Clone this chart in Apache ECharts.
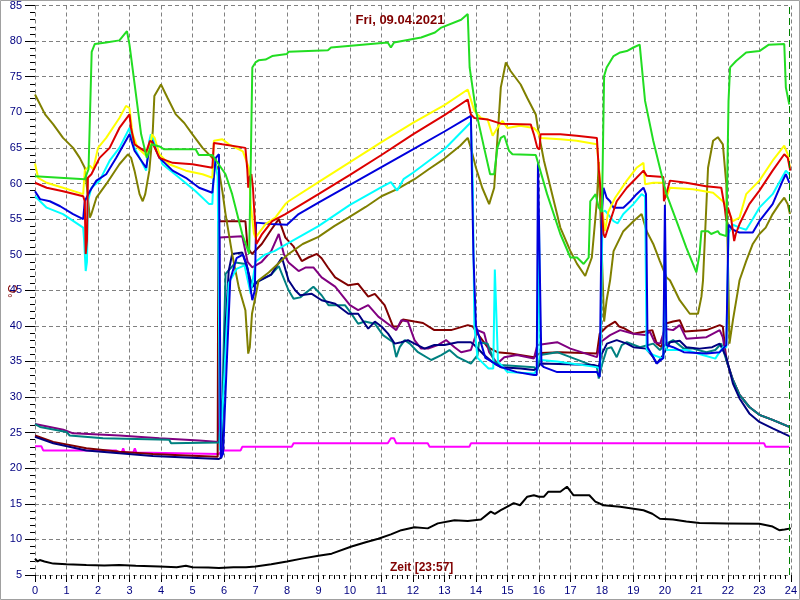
<!DOCTYPE html>
<html>
<head>
<meta charset="utf-8">
<script src="https://cdn.jsdelivr.net/npm/echarts@6/dist/echarts.min.js"></script>
<style>html,body{margin:0;padding:0;background:#fff}#c{width:800px;height:600px}</style>
</head>
<body>
<div id="c"></div>
<script>
const titleText = 'Fri, 09.04.2021';
const xLabel = 'Zeit [23:57]';
const yLabel = '°C';
const nowHour = 23.95;

const green = [[0,61.0],[1.58,60.6],[1.7,62],[1.8,78.5],[1.9,79.6],[2.26,79.8],[2.68,80.1],[2.92,81.4],[3.0,79.5],[3.37,66.9],[3.55,63.6],[3.7,65.5],[3.95,65.2],[4.1,64.8],[5.1,64.8],[5.2,64.0],[5.63,64.0],[6.05,61.3],[6.26,58.5],[6.58,52.9],[6.8,50.1],[6.84,60],[6.9,76.3],[7.0,77.0],[7.1,77.3],[7.32,77.4],[7.53,77.9],[8.0,78.2],[8.05,78.5],[9.3,78.7],[9.4,79.1],[11.2,79.8],[11.3,79.1],[11.4,79.8],[12.26,80.5],[12.7,81.2],[12.9,81.9],[13.53,83.0],[13.74,83.8],[13.8,76.3],[14.0,70.2],[14.26,65.0],[14.45,61.3],[14.58,61.3],[14.68,65.0],[14.79,66.4],[14.9,66.7],[15.05,64.6],[15.16,64.1],[15.9,64.0],[16.26,58.5],[16.68,52.9],[17.0,49.6],[17.21,49.6],[17.42,48.7],[17.58,49.6],[17.63,57.5],[17.8,58.5],[17.9,56.6],[18.0,56],[18.07,75.1],[18.15,76.3],[18.37,77.9],[18.58,78.4],[18.79,78.6],[19.0,79.1],[19.2,79.5],[19.37,71.6],[19.63,66.0],[19.84,62.2],[20.05,58.5],[20.37,54.7],[20.68,51.0],[21.0,47.5],[21.1,50.1],[21.16,53.3],[21.37,53.3],[21.47,52.9],[21.68,53.3],[21.74,52.9],[21.95,52.6],[22.02,71.6],[22.07,76.3],[22.26,77.2],[22.58,78.4],[23.0,78.6],[23.3,79.5],[23.79,79.6],[23.84,73.5],[23.95,71.1]];

const olive = [[0,72.5],[0.32,69.7],[0.58,68.3],[0.89,66.4],[1.21,65.0],[1.42,63.6],[1.58,62.2],[1.65,59.4],[1.74,55.2],[1.79,55.7],[1.95,58.0],[2.26,59.9],[2.47,61.3],[2.68,62.7],[2.95,64.1],[3.05,63.6],[3.16,61.8],[3.32,58.5],[3.42,57.5],[3.5,58.5],[3.63,61.8],[3.74,67.4],[3.79,72.3],[4.0,73.9],[4.21,72.0],[4.47,69.7],[4.74,68.5],[5.0,66.9],[5.32,65.0],[5.63,63.6],[5.84,61.8],[5.95,58.9],[6.05,55.7],[6.26,50.1],[6.47,45.4],[6.68,42.2],[6.77,36.1],[6.82,37],[6.89,41.7],[7.0,44.1],[7.1,46.4],[7.42,47.5],[8.05,50.1],[8.5,51.5],[9.0,52.5],[9.5,54],[9.95,55.2],[10.5,56.7],[11.0,58.2],[11.5,59.2],[12.05,60.6],[12.5,62],[13.0,63.5],[13.5,65.3],[13.74,66.4],[13.84,65],[14.0,62.2],[14.2,59.4],[14.42,57.1],[14.58,59.4],[14.79,73.5],[14.95,77.0],[15.1,75.8],[15.42,73.9],[15.63,72.0],[15.9,69.7],[16.0,66.9],[16.16,63.2],[16.42,58.5],[16.68,53.8],[17.0,50.5],[17.21,48.7],[17.47,47.0],[17.68,49.6],[17.84,57.5],[17.9,63],[17.96,55],[18.07,40.6],[18.15,43.6],[18.26,46.4],[18.37,50.5],[18.68,53.3],[19.0,54.7],[19.26,55.7],[19.42,53.3],[19.63,51.5],[19.84,49.1],[20.05,46.8],[20.16,46.4],[20.47,43.6],[20.79,41.7],[21.05,41.7],[21.16,44.1],[21.21,46.4],[21.37,62.2],[21.53,66.0],[21.68,66.5],[21.84,65.5],[21.95,59.9],[22.02,45],[22.05,37.5],[22.16,40.8],[22.3,44.5],[22.37,46.4],[22.58,49.1],[22.79,51.5],[23.0,52.9],[23.2,53.8],[23.42,55.7],[23.63,57.1],[23.79,58.0],[23.9,57.1],[23.97,55.7]];

const yellow = [[0,62.8],[0.1,60.8],[0.37,60.1],[0.89,59.4],[1.53,58.5],[1.58,61.8],[1.74,62.5],[1.85,62],[2.0,65.0],[2.26,66.4],[2.68,69.2],[2.89,70.9],[3.0,70.6],[3.1,66.9],[3.26,65.0],[3.53,63.9],[3.65,65],[3.71,66.9],[3.8,66.4],[3.95,64.1],[4.26,62.7],[4.79,61.8],[5.32,61.3],[5.63,60.8],[5.68,66.0],[5.95,66.2],[6.16,65.5],[6.6,64.5],[6.79,62.2],[6.85,57],[6.95,53],[7.0,52.4],[7.32,54.3],[7.63,55.2],[7.95,57.1],[8.05,57.5],[9.0,60.2],[10.0,63.0],[11.0,65.8],[12.0,68.5],[13.0,71.0],[13.74,73.2],[13.95,70.2],[14.16,69.2],[14.37,69.0],[14.53,66.7],[14.68,67.8],[14.84,68.8],[15.0,67.8],[15.4,68.1],[15.84,67.8],[15.95,67.3],[16.05,66.4],[16.68,66.2],[17.2,66.0],[17.84,65.5],[17.93,61],[18.0,56.6],[18.1,53.3],[18.2,56],[18.42,58.0],[18.79,60.4],[19.1,62.2],[19.32,62.9],[19.37,59.9],[19.63,60.1],[19.95,60.1],[20.0,58.5],[20.05,58.0],[20.16,59.4],[20.89,59.2],[21.53,58.7],[21.84,57.5],[21.95,57.0],[22.05,55.7],[22.16,54.7],[22.37,55.2],[22.58,58.5],[23.0,60.4],[23.42,63.2],[23.79,65.3],[23.9,64.1],[23.97,62.2]];

const red = [[0,60.1],[0.37,59.4],[0.89,58.9],[1.53,58.2],[1.58,57.5],[1.61,50.1],[1.65,52],[1.68,60.8],[1.79,61.3],[2.05,63.6],[2.37,65.0],[2.68,67.8],[3.0,69.7],[3.05,67.8],[3.16,65.5],[3.53,64.4],[3.65,66.0],[3.72,65.8],[3.95,63.6],[4.37,62.9],[5.0,62.7],[5.63,62.2],[5.68,65.7],[5.95,65.5],[6.68,65.0],[6.74,62],[6.77,59.4],[6.8,60.8],[6.87,61.3],[6.92,59.4],[6.98,54.7],[7.03,51.5],[7.21,52.9],[7.53,54.7],[7.95,55.7],[8.0,55.7],[9.0,58.5],[10.0,61.2],[11.0,64.0],[12.0,66.9],[13.0,69.6],[13.74,71.8],[13.84,69.7],[13.95,69.2],[14.37,69.0],[14.79,68.4],[15.74,68.3],[15.84,66.9],[15.95,65.0],[16.02,64.8],[16.05,66.9],[16.68,66.9],[17.2,66.7],[17.84,66.4],[17.9,62],[17.97,58.5],[18.05,52.9],[18.1,52.4],[18.26,54.7],[18.47,57.5],[18.79,59.4],[19.1,60.8],[19.32,61.8],[19.42,61.1],[19.95,60.9],[19.97,57.5],[20.05,58.6],[20.16,60.4],[20.68,60.1],[21.3,59.6],[21.79,59.4],[21.9,56.6],[21.95,54.7],[22.0,56.6],[22.1,55.2],[22.2,51.9],[22.25,52.9],[22.37,54.3],[22.68,57.1],[23.0,59.0],[23.42,61.8],[23.79,64.1],[23.9,63.6],[23.98,61.8]];

const cyan = [[0,58.2],[0.37,56.6],[0.89,55.7],[1.53,53.8],[1.56,52],[1.61,47.7],[1.65,49],[1.68,57.5],[1.79,59.4],[2.05,60.4],[2.37,63.2],[2.68,65.0],[3.0,67.8],[3.16,65.0],[3.53,61.8],[3.63,66.0],[3.68,66.9],[3.78,66.0],[4.05,62.7],[4.58,60.8],[5.1,58.9],[5.53,57.1],[5.63,57.1],[5.7,63.5],[5.8,61],[5.88,22.5],[6.0,32],[6.15,46],[6.4,48],[6.65,48.5],[6.85,44.5],[7.0,49],[7.3,50],[7.6,50.5],[8.0,51.5],[9.0,54.0],[10.0,57.0],[11.0,59.5],[11.3,60.2],[11.5,59.0],[11.7,60.6],[12.0,61.5],[13.0,64.8],[13.84,68.6],[13.9,60],[13.95,40],[14.05,35.5],[14.4,34],[14.55,34],[14.6,47.9],[14.65,47.9],[14.7,35],[15.0,33.5],[15.84,33.3],[15.95,33.8],[16.0,55],[16.05,35.2],[16.58,35.0],[17.84,34.2],[17.95,34],[18.02,56],[18.1,56.2],[18.37,54.7],[18.5,54.4],[18.68,55.7],[19.0,57.1],[19.26,58.5],[19.37,58.2],[19.42,36.6],[19.63,35.9],[19.95,35.4],[20.0,52],[20.05,36.6],[20.68,36.6],[21.2,35.9],[21.6,35.4],[21.84,37.0],[21.95,37],[22.02,53],[22.16,54.2],[22.37,53.8],[22.58,53.5],[22.79,55.0],[23.0,56.6],[23.42,58.5],[23.84,61.8],[23.95,61.3]];

const blue = [[0,58.9],[0.16,57.8],[0.47,57.5],[0.8,56.8],[1.21,55.7],[1.53,55.0],[1.58,57.5],[1.74,58.9],[1.95,60.4],[2.26,61.3],[2.58,63.6],[3.0,66.9],[3.16,64.6],[3.53,62.2],[3.65,65.5],[3.72,66.0],[3.95,63.6],[4.37,61.8],[4.79,60.8],[5.21,59.4],[5.63,58.7],[5.74,63.6],[5.84,64.1],[5.9,21.5],[5.97,22],[6.1,36],[6.2,46.5],[6.4,49.5],[6.6,50],[6.75,48],[6.9,43.6],[6.98,45],[7.02,54.5],[7.5,54.3],[8.0,54.2],[8.37,55.7],[9.0,57.3],[10.0,59.8],[11.0,62.3],[12.0,64.8],[13.0,67.3],[13.84,69.5],[13.92,50],[14.0,40],[14.3,35.5],[14.8,34.2],[15.3,33.5],[15.84,33.1],[15.93,33.1],[15.97,63],[16.03,63],[16.08,34.5],[16.16,34.2],[16.58,33.5],[17.84,33.5],[17.93,32.8],[17.99,55],[18.05,59.4],[18.15,58],[18.26,57.5],[18.37,56.6],[18.68,56.6],[18.9,57.5],[19.1,58.5],[19.32,59.4],[19.4,58.5],[19.45,37],[19.63,35.6],[19.74,34.7],[19.95,35.5],[20.0,57],[20.05,37.3],[20.26,37.0],[20.6,36.3],[21.32,36.1],[21.74,36.3],[21.95,37.3],[22.02,54.2],[22.16,53.5],[22.37,53.1],[22.79,53.1],[23.0,54.7],[23.42,57.1],[23.74,60.4],[23.84,61.3],[23.95,60.1]];

const navy = [[0,24.4],[0.58,23.5],[1.63,22.5],[2.68,22.1],[3.74,21.7],[4.79,21.5],[5.84,21.3],[5.92,21.5],[6.05,40],[6.15,47.7],[6.26,50.1],[6.58,50.3],[6.72,48.6],[6.89,45.4],[7.1,46.3],[7.5,47.2],[7.84,49.6],[8.05,46.4],[8.26,45.0],[8.42,44.3],[8.79,44.5],[9.1,43.6],[9.53,43.1],[9.95,41.7],[10.26,41.7],[10.58,39.6],[10.79,40.6],[11.0,39.9],[11.21,38.9],[11.42,37.5],[11.63,37.7],[11.84,38.0],[12.05,37.5],[12.37,36.8],[12.68,37.3],[13.0,37.3],[13.42,37.7],[13.84,37.7],[13.95,37.3],[14.26,35.9],[14.58,34.7],[14.79,34.2],[15.42,34.0],[15.84,33.8],[15.95,34],[16.05,34.7],[17.74,34.5],[17.9,34.3],[18.0,36.1],[18.16,37.5],[18.47,38.0],[18.79,37.5],[19.0,37.0],[19.4,36.8],[19.63,35.6],[19.74,34.7],[19.9,35.6],[20.16,37.7],[20.47,37.9],[20.68,37.0],[21.1,36.8],[21.5,37.0],[21.74,37.5],[21.95,35.6],[22.16,31.9],[22.37,29.8],[22.68,27.7],[23.0,26.5],[23.42,25.6],[23.95,24.5]];

const teal = [[0,26.2],[0.16,25.8],[1.0,25.1],[1.1,24.6],[2.16,24.2],[4.26,24.0],[4.32,23.5],[5.84,23.6],[5.95,30],[6.05,47.3],[6.37,48.9],[6.68,48.7],[6.89,45.8],[7.1,46.3],[7.5,47.2],[7.74,48.4],[8.05,45.0],[8.21,43.8],[8.42,44.0],[8.84,45.5],[9.1,44.3],[9.32,42.9],[9.84,42.9],[10.0,42.0],[10.26,40.3],[10.47,40.6],[10.79,40.3],[11.05,38.7],[11.37,37.7],[11.47,35.6],[11.58,37.0],[11.74,38.0],[11.9,37.5],[12.16,36.3],[12.58,35.2],[12.9,35.9],[13.16,36.6],[13.42,35.6],[13.84,34.7],[14.05,35.9],[14.1,37.7],[14.37,37.5],[14.58,35],[14.79,34.5],[15.84,34.2],[15.95,33.8],[16.05,35.9],[16.58,36.3],[17.0,35.6],[17.84,34.2],[17.9,32.6],[18.0,34.5],[18.16,36.8],[18.3,37],[18.47,35.6],[18.63,37.3],[18.79,37.7],[19.21,37.0],[19.63,37.5],[19.84,36.6],[20.05,37.5],[20.26,38.0],[20.6,36.8],[20.89,36.8],[21.32,36.3],[21.6,36.6],[21.79,37.5],[21.95,35.2],[22.16,32.4],[22.37,30.3],[22.68,28.6],[23.0,27.5],[23.42,26.8],[23.95,25.8]];

const purple = [[0,26.2],[0.9,25.4],[1.21,24.9],[2.68,24.6],[3.95,24.2],[5.21,23.9],[5.84,23.7],[5.86,52.4],[6.58,52.6],[6.75,49],[6.9,48.2],[7.2,49],[7.5,50.5],[7.74,52.9],[7.9,50.1],[8.05,48.9],[8.37,47.7],[8.6,48.2],[8.84,48.2],[9.1,46.8],[9.53,45.5],[10.0,42.9],[10.26,42.2],[10.58,42.9],[10.9,41.3],[11.32,39.9],[11.47,39.4],[11.63,40.8],[11.84,40.6],[12.05,38.0],[12.26,36.8],[12.48,36.8],[12.79,37.3],[13.05,38.0],[13.32,37.0],[13.53,36.3],[13.84,36.6],[14.05,39.4],[14.26,39.0],[14.42,36.3],[14.68,34.7],[14.9,35.6],[15.3,35.9],[15.84,35.4],[15.95,37.3],[16.58,37.7],[17.0,36.8],[17.84,35.6],[17.95,37.7],[18.26,38.7],[18.58,39.4],[19.0,38.9],[19.37,38.7],[19.52,39.2],[19.68,37.7],[19.85,37.5],[20.0,39.6],[20.26,39.4],[20.47,40.1],[20.68,38.2],[21.32,38.4],[21.74,39.4],[21.84,38.4],[21.95,35.2],[22.16,32.4],[22.37,30.3],[22.68,28.6],[23.0,27.5],[23.42,26.8],[23.95,25.8]];

const maroon = [[0,24.6],[0.58,23.7],[1.63,22.8],[2.68,22.3],[3.74,22.0],[4.79,21.8],[5.8,21.6],[5.82,54.7],[6.68,54.7],[6.75,51],[6.89,50.1],[7.2,51.5],[7.5,53.5],[7.74,55.0],[7.95,52.4],[8.2,51.2],[8.47,49.1],[8.68,49.6],[8.95,50.1],[9.1,49.5],[9.3,48.2],[9.53,46.8],[9.95,45.7],[10.26,45.9],[10.58,44.1],[10.79,44.5],[11.1,42.9],[11.37,39.9],[11.53,39.9],[11.68,40.9],[12.05,40.6],[12.32,40.4],[12.68,39.4],[13.21,39.4],[13.74,40.1],[13.9,39.9],[14.05,38.9],[14.37,37.0],[14.68,36.3],[15.1,36.1],[15.84,35.6],[16.05,36.2],[16.68,36.3],[17.84,36.1],[17.93,38.9],[18.16,39.9],[18.42,40.6],[18.55,39.9],[18.68,39.7],[19.0,38.9],[19.37,39.2],[19.6,39.4],[19.74,37.5],[19.9,37.0],[20.0,40.3],[20.26,40.6],[20.47,40.8],[20.63,39.2],[21.32,39.4],[21.74,40.1],[21.84,39.9],[21.95,35.2],[22.16,32.4],[22.37,30.3],[22.68,28.6],[23.0,27.5],[23.42,26.8],[23.95,25.8]];

const magenta = [[0,23.1],[0.2,23.1],[0.26,22.5],[2.58,22.5],[2.65,22.2],[2.75,22.2],[2.8,22.8],[2.85,22.2],[3.12,22.2],[3.17,22.8],[3.22,22.2],[5.84,22.0],[5.95,22.5],[6.53,22.5],[6.58,23.0],[8.15,23.0],[8.21,23.5],[11.2,23.5],[11.3,24.2],[11.4,24.2],[11.47,23.5],[12.47,23.5],[12.53,23.0],[13.79,23.0],[13.84,23.5],[23.15,23.5],[23.2,23.0],[23.95,23.0]];

const black = [[0,7.3],[0.08,6.9],[0.15,7.1],[0.3,6.9],[0.58,6.6],[1.0,6.5],[1.63,6.4],[2.2,6.35],[2.68,6.4],[3.2,6.3],[3.95,6.2],[4.5,6.1],[4.79,6.3],[5.0,6.1],[5.5,6.05],[5.84,6.0],[6.3,6.1],[6.7,6.1],[7.0,6.2],[7.5,6.5],[8.0,6.9],[8.47,7.3],[9.0,7.7],[9.42,8.0],[10.05,9.0],[10.5,9.6],[10.9,10.1],[11.3,10.7],[11.63,11.3],[12.05,11.7],[12.47,11.55],[12.79,12.25],[13.32,12.7],[13.74,12.6],[14.16,12.8],[14.47,13.9],[14.6,13.6],[14.79,14.1],[15.0,14.6],[15.2,15.1],[15.4,14.8],[15.63,16.0],[15.84,16.2],[16.0,16.0],[16.16,16.0],[16.3,16.7],[16.68,16.7],[16.89,17.4],[17.1,16.2],[17.6,16.2],[17.79,15.3],[18.05,14.8],[18.58,14.6],[19.32,14.1],[19.6,13.6],[19.84,12.9],[20.26,12.8],[20.68,12.5],[21.1,12.3],[21.95,12.25],[23.0,12.2],[23.42,11.8],[23.63,11.3],[23.8,11.4],[24,11.55]];

const seriesList = [
  ['black', black, '#000000'],
  ['magenta', magenta, '#ff00ff'],
  ['maroon', maroon, '#800000'],
  ['purple', purple, '#800080'],
  ['teal', teal, '#008080'],
  ['navy', navy, '#000080'],
  ['olive', olive, '#808000'],
  ['cyan', cyan, '#00ffff'],
  ['blue', blue, '#0000dd'],
  ['yellow', yellow, '#ffff00'],
  ['red', red, '#dd0000'],
  ['green', green, '#22dd22']
];

const chart = echarts.init(document.getElementById('c'), null, {renderer: 'canvas'});
const font = 'Liberation Sans, Arial, sans-serif';
const series = seriesList.map(([name, data, color]) => ({
  name, type: 'line', data, showSymbol: false, symbol: 'none',
  lineStyle: {color, width: 2}, itemStyle: {color}, animation: false
}));
series.push({
  name: 'now', type: 'line', data: [], animation: false,
  markLine: {symbol: 'none', silent: true, label: {show: false},
    lineStyle: {color: '#008000', type: [7, 4], width: 1},
    data: [{xAxis: nowHour}]}
});

chart.setOption({
  backgroundColor: '#ffffff',
  animation: false,
  title: {text: titleText, left: 'center', top: 9,
    textStyle: {color: '#800000', fontSize: 13, fontWeight: 'bold', fontFamily: font}},
  grid: {left: 35, right: 5, top: 5, bottom: 25},
  xAxis: {
    type: 'value', min: 0, max: 24, interval: 1,
    axisLine: {show: false},
    axisTick: {show: true, length: 7, lineStyle: {color: '#000'}},
    minorTick: {show: true, splitNumber: 6, length: 4, lineStyle: {color: '#000'}},
    axisLabel: {color: '#000080', fontSize: 11, fontFamily: font, margin: 10},
    splitLine: {show: true, lineStyle: {color: '#808080', type: [4, 3], width: 1}}
  },
  yAxis: {
    type: 'value', min: 5, max: 85, interval: 5,
    axisLine: {show: false},
    axisTick: {show: true, length: 10, lineStyle: {color: '#000'}},
    minorTick: {show: true, splitNumber: 5, length: 5, lineStyle: {color: '#000'}},
    axisLabel: {color: '#000080', fontSize: 11, fontFamily: font, margin: 13},
    splitLine: {show: true, lineStyle: {color: '#808080', type: [4, 3], width: 1}}
  },
  graphic: [
    {type: 'text', left: 390, top: 562, z: 100,
      style: {text: xLabel, fill: '#800000', font: 'bold 12px ' + font}},
    {type: 'text', x: 8, y: 298, rotation: Math.PI / 2, z: 100,
      style: {text: yLabel, fill: '#800000', font: '12px ' + font}},
    {type: 'rect', shape: {x: 0.5, y: 0.5, width: 799, height: 599}, z: 100,
      style: {fill: 'none', stroke: '#a0a0a0', lineWidth: 1}}
  ],
  series
});
</script>
</body>
</html>
